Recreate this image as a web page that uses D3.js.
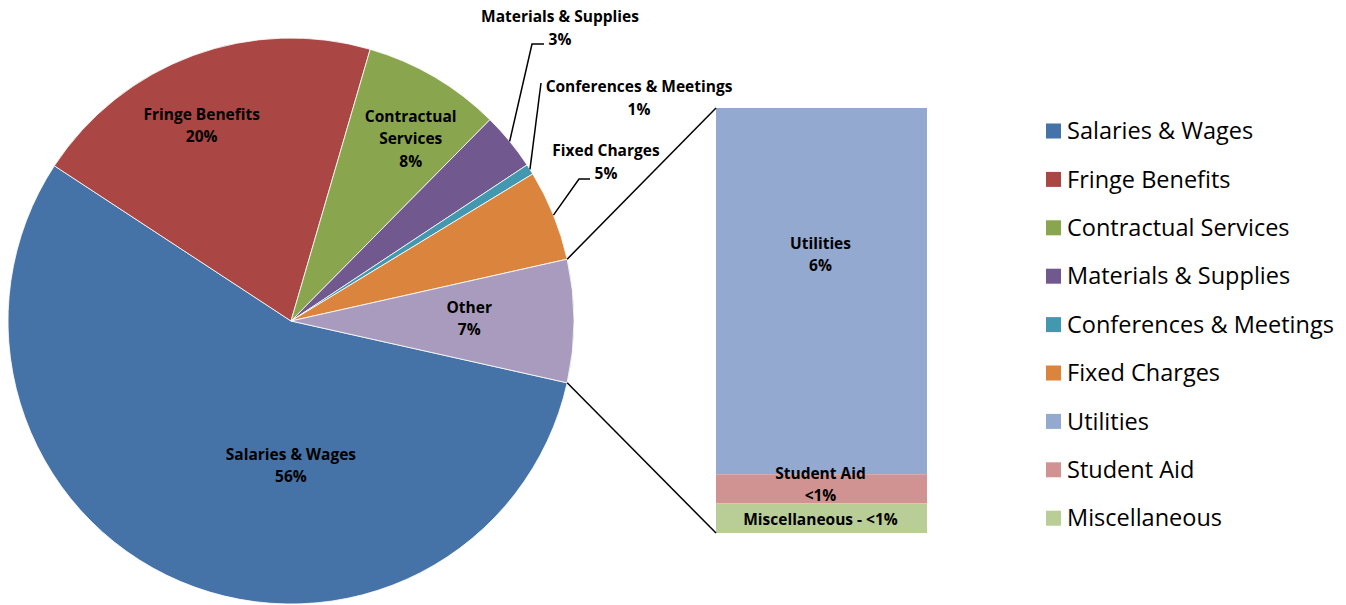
<!DOCTYPE html>
<html>
<head>
<meta charset="utf-8">
<script src="https://cdn.jsdelivr.net/npm/d3@7"></script>
<style>
  body { margin: 0; background: #fff; }
  svg { display: block; font-family: "Open Sans", Lato, "Liberation Sans", sans-serif; font-variant-ligatures: none; }
  .label { font-weight: bold; font-size: 15.5px; fill: #000; }
  .legend text { font-size: 23.5px; fill: #000; }
  .leader { stroke: #000; stroke-width: 1.5px; fill: none; }
</style>
</head>
<body>
<script>
// pie categories and values (percent of total)
var pieNames = ['Salaries & Wages', 'Fringe Benefits', 'Contractual Services', 'Materials & Supplies',
    'Conferences & Meetings', 'Fixed Charges', 'Other'];
var pieLabels = ['Salaries & Wages\n56%', 'Fringe Benefits\n20%', 'Contractual\nServices\n8%',
    'Materials & Supplies\n3%', 'Conferences & Meetings\n1%', 'Fixed Charges\n5%', 'Other\n7%'];

// breakdown of "Other" shown in the bar
var barNames = ['Utilities', 'Student Aid', 'Miscellaneous'];
var barLabels = ['Utilities\n6%', 'Student Aid\n<1%', 'Miscellaneous - <1%'];
var barValues = [6.05, 0.48, 0.49];

var pieValues = [55.8, 20.3, 7.9, 3.3, 0.6, 5.2, d3.sum(barValues)];

var legendNames = pieNames.slice(0, 6).concat(barNames);
var colors = ['#4572A7', '#AA4643', '#89A54E', '#71588F', '#4198AF', '#DB843D', '#A99BBD',
    '#93A9CF', '#D19392', '#B9CD96'];

(function() {
    var width = 1346, height = 605;
    var cx = 291, cy = 321, radius = 283;
    var bar = { x: 716, width: 211, top: 108, bottom: 533 };

    var svg = d3.select('body').append('svg')
        .attr('width', width)
        .attr('height', height);

    var data = pieNames.map(function(name, i) {
        return { name: name, value: pieValues[i], label: pieLabels[i], color: colors[i] };
    });

    // "Other" slice is centred on the right side, as in the reference
    var otherShare = pieValues[6] / d3.sum(pieValues);
    var start = Math.PI / 2 + otherShare * Math.PI;

    var pie = d3.pie()
        .sort(null)
        .value(function(d) { return d.value; })
        .startAngle(start)
        .endAngle(start + 2 * Math.PI);

    var arcs = pie(data);
    var arc = d3.arc().innerRadius(0).outerRadius(radius);

    var g = svg.append('g').attr('transform', 'translate(' + cx + ',' + cy + ')');

    g.selectAll('path.slice')
        .data(arcs)
        .enter().append('path')
        .attr('class', 'slice')
        .attr('d', arc)
        .attr('fill', function(d) { return d.data.color; })
        .attr('stroke', '#fff')
        .attr('stroke-width', 0.8);

    var polar = function(r, a) {
        return [r * Math.sin(a), -r * Math.cos(a)];
    };

    var writeLines = function(sel, lines, x, y, lineHeight) {
        var t = sel.append('text')
            .attr('class', 'label')
            .attr('text-anchor', 'middle');
        var offset = -(lines.length - 1) * lineHeight / 2;
        lines.forEach(function(line, i) {
            t.append('tspan')
                .attr('x', x)
                .attr('y', y + offset + i * lineHeight)
                .attr('dy', '0.35em')
                .text(line);
        });
        return t;
    };

    // inside labels: radius fraction and angle nudge (radians)
    var inside = {
        0: { r: 0.51, da: -0.4 },
        1: { r: 0.76, da: -0.075 },
        2: { r: 0.77, da: 0.05 },
        6: { r: 0.63, da: -0.015 }
    };
    Object.keys(inside).forEach(function(k) {
        var a = arcs[k];
        var mid = (a.startAngle + a.endAngle) / 2 + inside[k].da;
        var p = polar(radius * inside[k].r, mid);
        writeLines(g, a.data.label.split('\n'), p[0], p[1], 22.5);
    });

    // outside labels with leader lines: label centre and elbow relative to pie centre
    var outside = {
        3: { lx: 269, ly: -293, elbow: [241, -277], end: [253, -277] },
        4: { lx: 348, ly: -223, elbow: [250, -238], end: [250, -238] },
        5: { lx: 315, ly: -159, elbow: [288, -142], end: [299, -142] }
    };
    Object.keys(outside).forEach(function(k) {
        var a = arcs[k];
        var o = outside[k];
        var mid = (a.startAngle + a.endAngle) / 2;
        var p = polar(radius, mid);
        g.append('polyline')
            .attr('class', 'leader')
            .attr('points', [p, o.elbow, o.end].map(function(q) { return q.join(','); }).join(' '));
        writeLines(g, a.data.label.split('\n'), o.lx, o.ly, 23);
    });

    // bar of "Other"
    var y = d3.scaleLinear()
        .domain([0, d3.sum(barValues)])
        .range([bar.bottom, bar.top]);

    var stack = [];
    var acc = 0;
    // stacked from the bottom: Miscellaneous, Student Aid, Utilities
    for (var i = barValues.length - 1; i >= 0; i--) {
        stack[i] = { y0: acc, y1: acc + barValues[i] };
        acc += barValues[i];
    }

    svg.selectAll('rect.seg')
        .data(barNames)
        .enter().append('rect')
        .attr('class', 'seg')
        .attr('x', bar.x)
        .attr('width', bar.width)
        .attr('y', function(d, i) { return y(stack[i].y1); })
        .attr('height', function(d, i) { return y(stack[i].y0) - y(stack[i].y1); })
        .attr('fill', function(d, i) { return colors[7 + i]; });

    var barLabelPos = [0.4, 0.35, 0.55];
    barNames.forEach(function(name, i) {
        var top = y(stack[i].y1), bottom = y(stack[i].y0);
        var yy = top + (bottom - top) * barLabelPos[i];
        writeLines(svg, barLabels[i].split('\n'), bar.x + bar.width / 2 - 1, yy, 22);
    });

    // connector lines between the "Other" slice and the bar
    var other = arcs[6];
    var pStart = polar(radius, other.startAngle);
    var pEnd = polar(radius, other.endAngle);
    svg.append('line')
        .attr('class', 'leader')
        .attr('x1', cx + pStart[0]).attr('y1', cy + pStart[1])
        .attr('x2', bar.x).attr('y2', bar.top);
    svg.append('line')
        .attr('class', 'leader')
        .attr('x1', cx + pEnd[0]).attr('y1', cy + pEnd[1])
        .attr('x2', bar.x).attr('y2', bar.bottom);

    // legend
    var legend = svg.append('g').attr('class', 'legend')
        .attr('transform', 'translate(1046, 131)');

    var row = legend.selectAll('g')
        .data(legendNames)
        .enter().append('g')
        .attr('transform', function(d, i) { return 'translate(0,' + (i * 48.4) + ')'; });

    row.append('rect')
        .attr('x', 0).attr('y', -7.5)
        .attr('width', 15).attr('height', 15)
        .attr('fill', function(d, i) { return i < 6 ? colors[i] : colors[i + 1]; });

    row.append('text')
        .attr('x', 21)
        .attr('dy', '0.35em')
        .text(function(d) { return d; });
})();
</script>
</body>
</html>
